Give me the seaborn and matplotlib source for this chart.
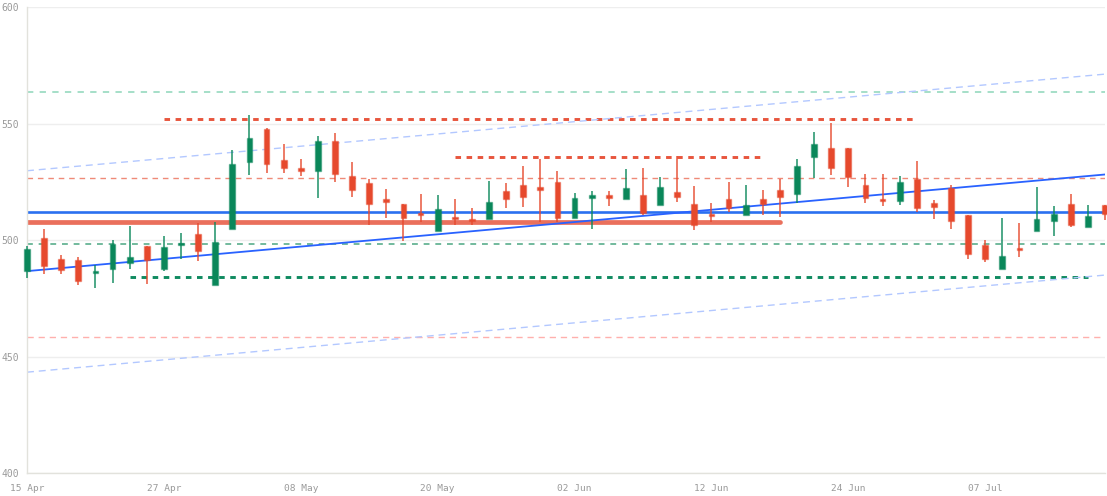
import numpy as np
import pandas as pd
import matplotlib
matplotlib.use("Agg")
import matplotlib.pyplot as plt
import seaborn as sns

# ---- data ----
opens = [486.7, 501.0, 492.0, 491.4, 486.0, 487.8, 490.0, 497.4, 487.5, 497.9,
         502.6, 480.7, 504.7, 533.6, 547.7, 534.4, 531.1, 529.8, 542.7, 527.6,
         524.6, 517.8, 515.6, 511.8, 503.9, 509.7, 508.9, 508.9, 521.2, 523.6,
         522.9, 525.1, 509.7, 517.9, 519.6, 517.6, 519.6, 515.0, 520.5, 515.6,
         511.3, 517.5, 510.7, 517.6, 521.5, 519.8, 535.8, 539.7, 539.7, 523.8,
         517.6, 516.8, 526.2, 515.8, 522.2, 510.7, 497.9, 487.8, 496.4, 503.9,
         508.3, 515.5, 505.5, 515.0]
closes = [496.1, 488.7, 487.2, 482.4, 486.8, 498.3, 492.6, 491.3, 496.9, 498.3,
          495.5, 499.3, 532.9, 544.0, 532.7, 531.1, 529.8, 542.7, 528.5, 521.4,
          515.4, 516.4, 509.7, 511.0, 513.2, 509.0, 508.2, 516.2, 517.5, 518.6,
          521.5, 509.6, 517.9, 519.6, 517.9, 522.6, 511.7, 523.0, 518.4, 506.7,
          510.2, 513.6, 515.3, 515.4, 518.4, 531.9, 541.1, 531.1, 527.2, 517.9,
          516.6, 525.1, 513.6, 514.3, 508.2, 494.0, 491.7, 493.3, 495.7, 508.9,
          511.2, 506.7, 510.4, 511.2]
highs = [497.4, 504.6, 493.6, 492.8, 489.3, 500.0, 506.0, 497.4, 501.7, 503.1,
         507.2, 507.9, 538.7, 553.7, 548.0, 541.1, 534.8, 544.7, 545.9, 533.6,
         526.2, 521.8, 515.6, 519.8, 519.6, 517.5, 513.9, 525.3, 524.6, 531.9,
         534.8, 529.7, 520.1, 521.1, 521.1, 530.4, 530.8, 527.2, 536.2, 523.3,
         515.8, 524.8, 523.6, 521.5, 526.2, 534.8, 546.6, 550.2, 539.7, 528.2,
         528.2, 527.6, 534.0, 517.2, 523.6, 510.7, 500.0, 509.6, 507.4, 522.9,
         514.7, 519.8, 515.3, 515.0]
lows = [483.7, 485.3, 485.3, 480.7, 479.5, 481.8, 487.8, 481.1, 486.7, 491.7,
        491.0, 480.7, 504.7, 528.0, 528.7, 528.7, 527.6, 518.2, 525.1, 518.6,
        506.7, 509.5, 499.6, 507.6, 503.9, 506.7, 506.7, 508.9, 513.9, 514.1,
        507.9, 507.9, 509.7, 504.6, 514.7, 517.6, 511.0, 515.0, 516.5, 504.3,
        507.6, 511.9, 510.7, 511.0, 510.0, 515.8, 526.9, 528.0, 522.9, 515.8,
        514.7, 515.3, 511.9, 508.9, 504.6, 491.7, 490.7, 487.8, 492.6, 503.9,
        501.8, 505.5, 505.5, 508.6]
tick_labels = ["15 Apr", "27 Apr", "08 May", "20 May", "02 Jun", "12 Jun", "24 Jun", "07 Jul"]
tick_every = 8

# horizontal levels: value, start index, end index
h_levels = [512.0, 507.9, 552.0, 535.5, 484.1, 498.5, 563.7, 526.8, 458.5]
h_starts = [0, 0, 8, 25, 6, 0, 0, 0, 0]
h_ends = [63, 44, 52, 43, 62, 63, 63, 63, 63]
# sloped lines: value at first index, value at last index
trend_start = [486.7, 529.8, 443.3]
trend_end = [528.2, 571.3, 485.0]

n = len(opens)
idx = np.arange(n)
df = pd.DataFrame({"i": idx, "open": opens, "close": closes, "high": highs, "low": lows})
df["up"] = df["close"] >= df["open"]

sns.set_theme(style="white")
plt.rcParams["font.family"] = ["DejaVu Sans Mono", "DejaVu Sans"]

fig = plt.figure(figsize=(11.07, 4.96), dpi=100)
ax = fig.add_axes([27 / 1107, 1 - 473 / 496, 1078 / 1107, (473 - 7.3) / 496])

GREEN = "#0a875a"
RED = "#e6492d"

# horizontal level styles
h_styles = [
    dict(color="#2a70f0", lw=1.9, ls="-"),
    dict(color="#e8604a", lw=3.4, ls="-", alpha=0.9),
    dict(color="#e8553d", lw=2.1, ls=(0, (1.9, 1.9))),
    dict(color="#e8553d", lw=2.1, ls=(0, (1.9, 1.9))),
    dict(color="#0f8a60", lw=2.1, ls=(0, (1.9, 1.9))),
    dict(color="#5aae8c", lw=1.2, ls=(0, (3.5, 3.5))),
    dict(color="#9edcc4", lw=1.3, ls=(0, (3.5, 3.5))),
    dict(color="#ef8a78", lw=1.0, ls=(0, (4.0, 3.5))),
    dict(color="#ffb0ad", lw=1.0, ls=(0, (4.5, 3.5))),
]
for v, s, e, st in zip(h_levels, h_starts, h_ends, h_styles):
    seg = pd.DataFrame({"x": [s, e], "y": [v, v]})
    sns.lineplot(data=seg, x="x", y="y", ax=ax, color=st["color"], linewidth=st["lw"],
                 linestyle=st["ls"], alpha=st.get("alpha", 1.0), zorder=2, legend=False)

t_styles = [
    dict(color="#2962ff", lw=1.3, ls="-"),
    dict(color="#b3c8ff", lw=1.0, ls=(0, (5, 3.5))),
    dict(color="#b3c8ff", lw=1.0, ls=(0, (5, 3.5))),
]
for a, b, st in zip(trend_start, trend_end, t_styles):
    seg = pd.DataFrame({"x": [0, n - 1], "y": [a, b]})
    sns.lineplot(data=seg, x="x", y="y", ax=ax, color=st["color"], linewidth=st["lw"],
                 linestyle=st["ls"], zorder=2, legend=False)

# candles
colors = np.where(df["up"], GREEN, RED)
ax.vlines(df["i"], df["low"], df["high"], colors=colors, linewidth=1.2, alpha=0.85,
          zorder=3, clip_on=False)
bottoms = np.minimum(df["open"], df["close"])
heights = np.maximum(np.abs(df["close"] - df["open"]), 0.8)
ax.bar(df["i"], heights, bottom=bottoms, width=0.34, color=colors,
       edgecolor=[(c, 0.45) for c in colors], linewidth=1.0, zorder=4, clip_on=False)

ax.set_xlim(0, n - 1)
ax.set_ylim(400, 600)
ax.set_yticks([400, 450, 500, 550, 600])
ax.set_xticks(np.arange(0, n, tick_every)[:len(tick_labels)])
ax.set_xticklabels(tick_labels)
ax.set_xlabel("")
ax.set_ylabel("")
ax.grid(axis="y", color="#eeeeee", linewidth=1.0)
ax.grid(axis="x", visible=False)
for sp in ["top", "right"]:
    ax.spines[sp].set_visible(False)
for sp in ["left", "bottom"]:
    ax.spines[sp].set_color("#e2e2dc")
    ax.spines[sp].set_linewidth(1.0)
ax.tick_params(axis="both", length=0, colors="#9a9a9a")
ax.tick_params(axis="y", pad=5.5, labelsize=7)
ax.tick_params(axis="x", pad=8, labelsize=6.8)

fig.savefig("out.png", dpi=100)
